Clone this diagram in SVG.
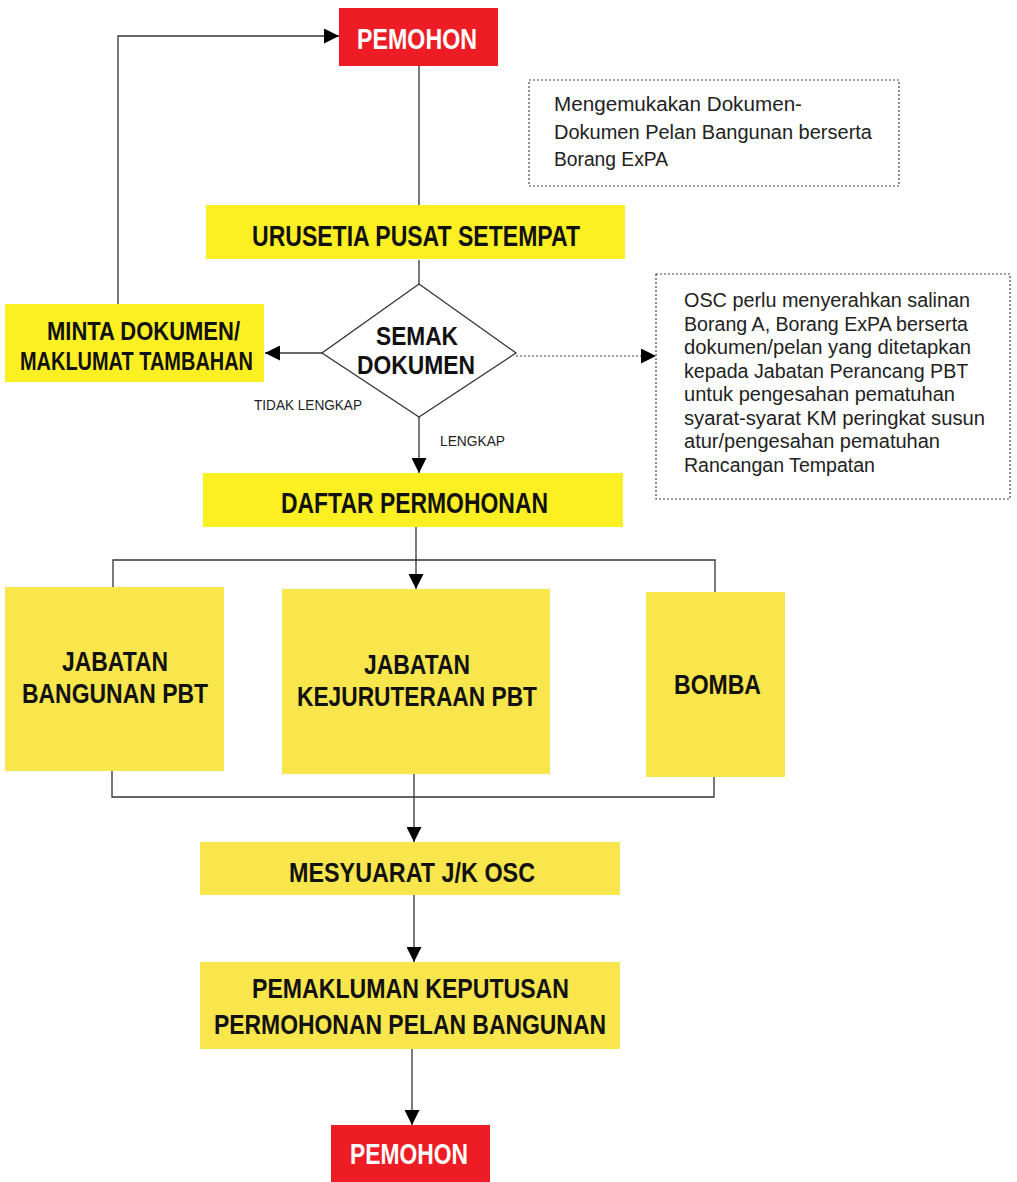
<svg xmlns="http://www.w3.org/2000/svg" width="1017" height="1182" viewBox="0 0 1017 1182">
<defs>
<style>
.red{fill:#ee1c24}
.yel{fill:#fdf022}
.yel2{fill:#f8e64c}
.b{font-family:"Liberation Sans",Arial,sans-serif;font-weight:bold;fill:#111}
.w{font-family:"Liberation Sans",Arial,sans-serif;font-weight:bold;fill:#fff}
.t{font-family:"Liberation Sans",Arial,sans-serif;fill:#222}
.ln{fill:none;stroke:#333;stroke-width:1.3}
.dt{fill:none;stroke:#444;stroke-width:1.2;stroke-dasharray:2,2}
.box{fill:#fff;stroke:#444;stroke-width:1.2;stroke-dasharray:2,2}
</style>
<marker id="ah" markerUnits="userSpaceOnUse" markerWidth="15" markerHeight="15" refX="14" refY="7" orient="auto" viewBox="0 0 14 14">
<path d="M0,0 L14,7 L0,14 z" fill="#000"/>
</marker>
</defs>
<rect width="1017" height="1182" fill="#fff"/>

<g id="connectors">
<path class="ln" d="M118,305 V36 H339" marker-end="url(#ah)"/>
<path class="ln" d="M419,66 V206"/>
<path class="ln" d="M419,260 V284"/>
<path class="ln" d="M322,353 H265" marker-end="url(#ah)"/>
<path class="dt" d="M516,356 H656" marker-end="url(#ah)"/>
<path class="ln" d="M419,417 V473" marker-end="url(#ah)"/>
<path class="ln" d="M416,527 V589" marker-end="url(#ah)"/>
<path class="ln" d="M113,588 V560 H715 V593"/>
<path class="ln" d="M112,771 V797 H714 V777"/>
<path class="ln" d="M414,774 V842" marker-end="url(#ah)"/>
<path class="ln" d="M414,895 V962" marker-end="url(#ah)"/>
<path class="ln" d="M412,1049 V1125" marker-end="url(#ah)"/>
<text class="t" x="254" y="410" font-size="15" textLength="108" lengthAdjust="spacingAndGlyphs">TIDAK LENGKAP</text>
<text class="t" x="440" y="446" font-size="15" textLength="65" lengthAdjust="spacingAndGlyphs">LENGKAP</text>
</g>

<g id="pemohon-top">
<rect class="red" x="339" y="8" width="159" height="58"/>
<text class="w" x="357" y="49" font-size="29" textLength="120" lengthAdjust="spacingAndGlyphs">PEMOHON</text>
</g>

<g id="note-1">
<rect class="box" x="529" y="80" width="370" height="106"/>
<text class="t" font-size="20">
<tspan x="554" y="111" textLength="248" lengthAdjust="spacingAndGlyphs">Mengemukakan Dokumen-</tspan>
<tspan x="554" y="139" textLength="318" lengthAdjust="spacingAndGlyphs">Dokumen Pelan Bangunan berserta</tspan>
<tspan x="554" y="166" textLength="114" lengthAdjust="spacingAndGlyphs">Borang ExPA</tspan>
</text>
</g>

<g id="urusetia">
<rect class="yel" x="206" y="205" width="419" height="54"/>
<text class="b" x="252" y="246" font-size="29" textLength="328" lengthAdjust="spacingAndGlyphs">URUSETIA PUSAT SETEMPAT</text>
</g>

<g id="semak">
<polygon points="419,284 516,353 419,417 322,353" fill="#fff" stroke="#333" stroke-width="1.3"/>
<text class="b" font-size="26">
<tspan x="376" y="345" textLength="82" lengthAdjust="spacingAndGlyphs">SEMAK</tspan>
<tspan x="357" y="374" textLength="118" lengthAdjust="spacingAndGlyphs">DOKUMEN</tspan>
</text>
</g>

<g id="minta">
<rect class="yel" x="5" y="304" width="259" height="78"/>
<text class="b" font-size="25">
<tspan x="47" y="340" textLength="193" lengthAdjust="spacingAndGlyphs">MINTA DOKUMEN/</tspan>
<tspan x="20" y="370" textLength="233" lengthAdjust="spacingAndGlyphs">MAKLUMAT TAMBAHAN</tspan>
</text>
</g>

<g id="note-2">
<rect class="box" x="656" y="274" width="354" height="225"/>
<text class="t" font-size="20">
<tspan x="684" y="307" textLength="286" lengthAdjust="spacingAndGlyphs">OSC perlu menyerahkan salinan</tspan>
<tspan x="684" y="331" textLength="284" lengthAdjust="spacingAndGlyphs">Borang A, Borang ExPA berserta</tspan>
<tspan x="684" y="354" textLength="287" lengthAdjust="spacingAndGlyphs">dokumen/pelan yang ditetapkan</tspan>
<tspan x="684" y="378" textLength="284" lengthAdjust="spacingAndGlyphs">kepada Jabatan Perancang PBT</tspan>
<tspan x="684" y="401" textLength="271" lengthAdjust="spacingAndGlyphs">untuk pengesahan pematuhan</tspan>
<tspan x="684" y="425" textLength="301" lengthAdjust="spacingAndGlyphs">syarat-syarat KM peringkat susun</tspan>
<tspan x="684" y="448" textLength="256" lengthAdjust="spacingAndGlyphs">atur/pengesahan pematuhan</tspan>
<tspan x="684" y="472" textLength="191" lengthAdjust="spacingAndGlyphs">Rancangan Tempatan</tspan>
</text>
</g>

<g id="daftar">
<rect class="yel" x="203" y="473" width="420" height="54"/>
<text class="b" x="281" y="513" font-size="29" textLength="267" lengthAdjust="spacingAndGlyphs">DAFTAR PERMOHONAN</text>
</g>

<g id="jabatan-bangunan">
<rect class="yel2" x="5" y="587" width="219" height="184"/>
<text class="b" font-size="28">
<tspan x="62" y="671" textLength="106" lengthAdjust="spacingAndGlyphs">JABATAN</tspan>
<tspan x="22" y="703" textLength="186" lengthAdjust="spacingAndGlyphs">BANGUNAN PBT</tspan>
</text>
</g>

<g id="jabatan-kejuruteraan">
<rect class="yel2" x="282" y="589" width="268" height="185"/>
<text class="b" font-size="28">
<tspan x="364" y="674" textLength="106" lengthAdjust="spacingAndGlyphs">JABATAN</tspan>
<tspan x="297" y="706" textLength="240" lengthAdjust="spacingAndGlyphs">KEJURUTERAAN PBT</tspan>
</text>
</g>

<g id="bomba">
<rect class="yel2" x="646" y="592" width="139" height="185"/>
<text class="b" x="674" y="694" font-size="28" textLength="87" lengthAdjust="spacingAndGlyphs">BOMBA</text>
</g>

<g id="mesyuarat">
<rect class="yel2" x="200" y="842" width="420" height="53"/>
<text class="b" x="289" y="882" font-size="28" textLength="246" lengthAdjust="spacingAndGlyphs">MESYUARAT J/K OSC</text>
</g>

<g id="pemakluman">
<rect class="yel2" x="200" y="962" width="420" height="87"/>
<text class="b" font-size="28">
<tspan x="252" y="998" textLength="317" lengthAdjust="spacingAndGlyphs">PEMAKLUMAN KEPUTUSAN</tspan>
<tspan x="214" y="1034" textLength="392" lengthAdjust="spacingAndGlyphs">PERMOHONAN PELAN BANGUNAN</tspan>
</text>
</g>

<g id="pemohon-bottom">
<rect class="red" x="331" y="1125" width="159" height="60"/>
<text class="w" x="350" y="1164" font-size="29" textLength="118" lengthAdjust="spacingAndGlyphs">PEMOHON</text>
</g>
</svg>
